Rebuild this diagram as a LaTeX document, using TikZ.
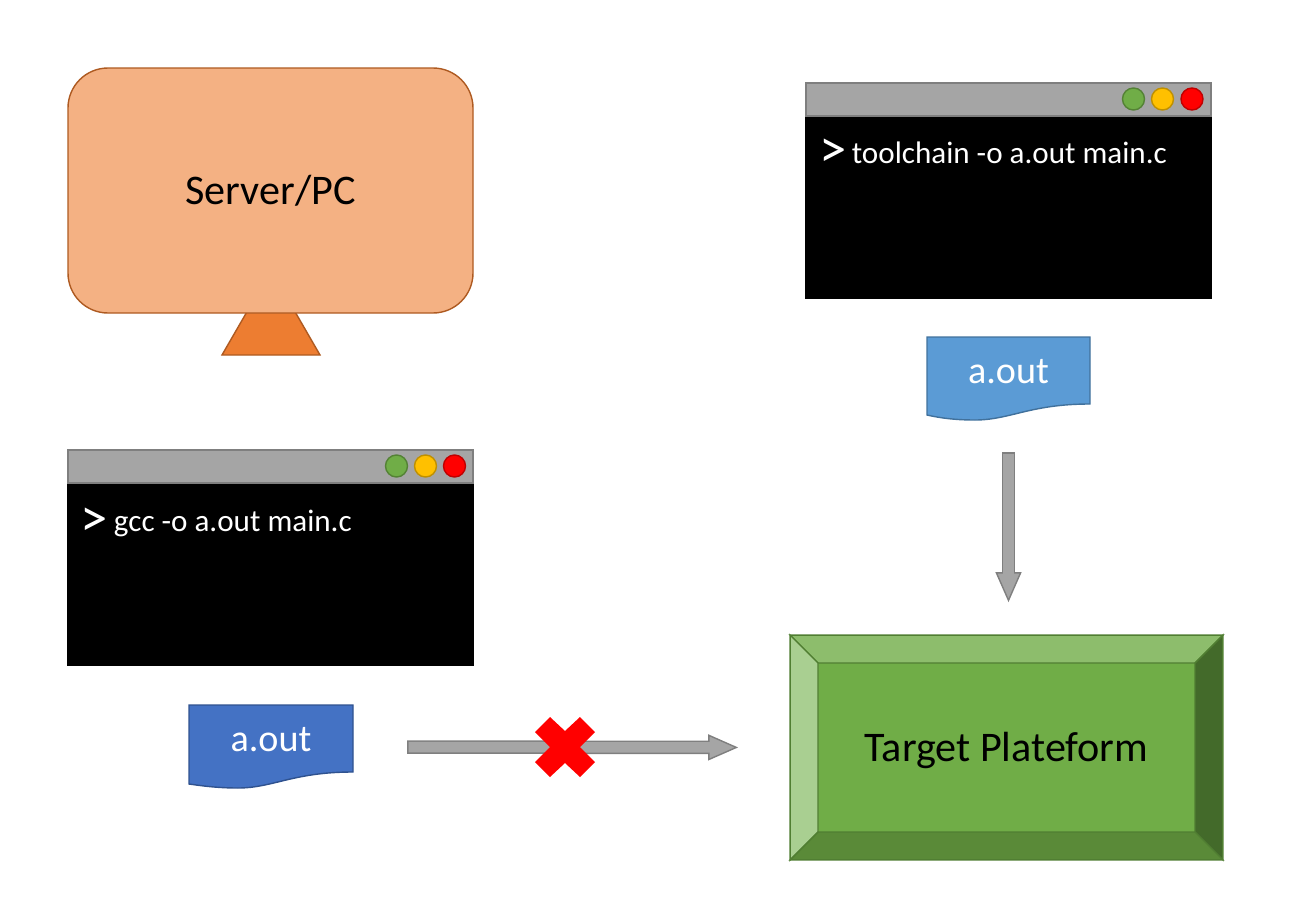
\documentclass[tikz,border=0pt]{standalone}
\usepackage{fontspec}
\setmainfont{Carlito}
\usepackage{xcolor}
\usetikzlibrary{arrows.meta}

\definecolor{monitorfill}{HTML}{F4B183}
\definecolor{monitoredge}{HTML}{AE5A21}
\definecolor{standfill}{HTML}{ED7D31}
\definecolor{arrowgray}{HTML}{A5A5A5}
\definecolor{arrowedge}{HTML}{7F7F7F}
\definecolor{lightblue}{HTML}{5B9BD5}
\definecolor{lightblueedge}{HTML}{41719C}
\definecolor{darkblue}{HTML}{4472C4}
\definecolor{darkblueedge}{HTML}{2F528F}
\definecolor{boardgreen}{HTML}{70AD47}
\definecolor{boardedge}{HTML}{507E32}
\definecolor{boardtop}{HTML}{8DBD6C}
\definecolor{boardleft}{HTML}{A9CF91}
\definecolor{boardright}{HTML}{436A2A}
\definecolor{boardbottom}{HTML}{5A8A38}
\definecolor{lampyellow}{HTML}{FFC000}

\tikzset{
    terminal/.style={rectangle, fill=black, inner sep=0pt, minimum width=8.14cm, minimum height=3.64cm},
    titlebar/.style={draw=arrowedge, line width=1pt, rectangle, fill=arrowgray, inner sep=0pt, minimum width=8.1cm, minimum height=0.66cm},
    light/.style={draw=#1!75!black, line width=0.8pt, circle, fill=#1, inner sep=0pt, minimum size=0.44cm},
    prompt/.style={text=white, font=\fontsize{31}{33}\selectfont},
    command/.style={text=white, anchor=west, inner sep=0pt, font=\fontsize{17.7}{20}\selectfont},
    bigtext/.style={text=black, font=\fontsize{24}{27}\selectfont},
    filetext/.style={text=white, font=\fontsize{21.7}{24}\selectfont},
    fileframe/.style={rectangle, inner sep=0pt, minimum width=3.27cm, minimum height=1.66cm},
    blockarrow/.style 2 args={draw=arrowgray, line width=0.21cm, shorten <=#1+0.03cm, shorten >=#2+0.5cm,
        preaction={draw=arrowedge, line width=0.27cm, shorten <=#1, shorten >=#2,
        -{Triangle[length=0.6cm, width=0.52cm, line width=0.8pt, fill=arrowgray]}}},
}

\begin{document}
\begin{tikzpicture}
    \useasboundingbox (0,0) rectangle (26.08,-18.44);

    % Stand and screen of the PC
    \draw[draw=monitoredge, line width=0.8pt, fill=standfill] (4.44,-7.1) -- (6.4,-7.1) -- (5.88,-6.2) -- (4.96,-6.2) -- cycle;
    \node[draw=monitoredge, line width=0.8pt, rectangle, rounded corners=0.8cm, minimum width=8.1cm, minimum height=4.9cm, fill=monitorfill, bigtext] (Server) at (5.41,-3.81) {Server/PC};

    % Terminal with the toolchain
    \node[terminal] (TermRight) at (20.17,-4.16) {};
    \node[titlebar] (BarRight) at (20.17,-1.99) {};
    \node[light=boardgreen] (GreenRight) at (22.67,-1.98) {};
    \node[light=lampyellow] (YellowRight) at (23.25,-1.98) {};
    \node[light=red] (RedRight) at (23.84,-1.98) {};
    \node[prompt] (PromptRight) at (16.67,-3.06) {>};
    \node[command] (CmdRight) at (17.03,-3.06) {toolchain -o a.out main.c};

    % Terminal with gcc
    \node[terminal] (TermLeft) at (5.41,-11.5) {};
    \node[titlebar] (BarLeft) at (5.41,-9.33) {};
    \node[light=boardgreen] (GreenLeft) at (7.93,-9.32) {};
    \node[light=lampyellow] (YellowLeft) at (8.51,-9.32) {};
    \node[light=red] (RedLeft) at (9.09,-9.32) {};
    \node[prompt] (PromptLeft) at (1.89,-10.44) {>};
    \node[command] (CmdLeft) at (2.27,-10.46) {gcc -o a.out main.c};

    % File from the toolchain
    \draw[draw=lightblueedge, line width=0.8pt, fill=lightblue] (18.54,-6.74) -- (21.8,-6.74) -- (21.8,-8.08) .. controls (20.6,-8.08) and (20.2,-8.4) .. (19.5,-8.4) .. controls (19.1,-8.4) and (18.8,-8.36) .. (18.54,-8.3) -- cycle;
    \node[fileframe] (OutRight) at (20.17,-7.57) {};
    \node[filetext] (LabelRight) at (20.17,-7.44) {a.out};

    % File from gcc
    \draw[draw=darkblueedge, line width=0.8pt, fill=darkblue] (3.78,-14.1) -- (7.06,-14.1) -- (7.06,-15.44) .. controls (5.86,-15.44) and (5.46,-15.76) .. (4.76,-15.76) .. controls (4.36,-15.76) and (4.06,-15.72) .. (3.78,-15.68) -- cycle;
    \node[fileframe] (OutLeft) at (5.42,-14.94) {};
    \node[filetext] (LabelLeft) at (5.42,-14.8) {a.out};

    % Target board with its bevel
    \node[draw=boardedge, line width=1pt, rectangle, minimum width=8.62cm, minimum height=4.46cm, fill=boardgreen] (Target) at (20.13,-14.95) {};
    \draw[draw=boardedge, line width=0.8pt, fill=boardtop] (Target.north west) -- (Target.north east) -- (23.9,-13.26) -- (16.36,-13.26) -- cycle;
    \draw[draw=boardedge, line width=0.8pt, fill=boardleft] (Target.north west) -- (16.36,-13.26) -- (16.36,-16.64) -- (Target.south west) -- cycle;
    \draw[draw=boardedge, line width=0.8pt, fill=boardright] (Target.north east) -- (23.9,-13.26) -- (23.9,-16.64) -- (Target.south east) -- cycle;
    \draw[draw=boardedge, line width=0.8pt, fill=boardbottom] (Target.south west) -- (16.36,-16.64) -- (23.9,-16.64) -- (Target.south east) -- cycle;
    \node[bigtext] (LabelTarget) at (20.13,-15.01) {Target Plateform};

    % Arrows
    \draw[blockarrow={0.64cm}{0.66cm}] (OutRight.south) -- (Target.north -| OutRight.south);
    \draw[blockarrow={1.08cm}{1.04cm}] (OutLeft.east) -- (Target.west);

    % Cross on the arrow
    \fill[red] (10.7,-14.64) -- (11.0,-14.34) -- (11.3,-14.62) -- (11.6,-14.34) -- (11.9,-14.64) -- (11.6,-14.94) -- (11.9,-15.24) -- (11.6,-15.54) -- (11.3,-15.26) -- (11.0,-15.54) -- (10.7,-15.24) -- (11.0,-14.94) -- cycle;
\end{tikzpicture}
\end{document}
